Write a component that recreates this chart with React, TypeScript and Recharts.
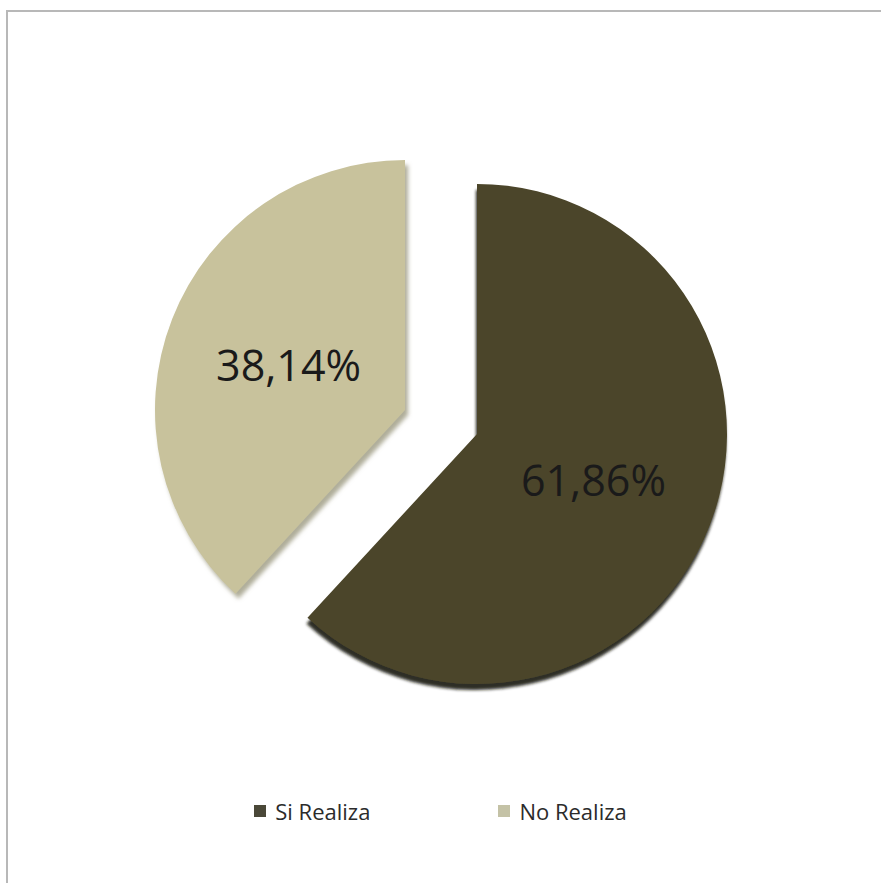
import React from "react";
import { PieChart, Pie, Cell, Legend } from "recharts";

const categories = ["Si Realiza", "No Realiza"];
const values = [61.86, 38.14];
const colors = ["#4b4529", "#c8c29c"];
const legendColors = ["#4a4838", "#c4c2a6"];

const data = categories.map((name, i) => ({ name, value: values[i] }));

// each slice is pulled out of the pie, so each gets its own centre
const slicePos = [
  { cx: 472, cy: 429 },
  { cx: 400, cy: 405 },
];

const RADIAN = Math.PI / 180;

function fmt(v: number) {
  return `${v.toFixed(2).replace(".", ",")}%`;
}

function makeLabel(show: number) {
  return (p: any) => {
    if (p.index !== show) return null;
    const r = p.outerRadius * 0.5;
    const x = p.cx + r * Math.cos(-p.midAngle * RADIAN);
    const y = p.cy + r * Math.sin(-p.midAngle * RADIAN);
    return (
      <text
        x={x}
        y={y}
        textAnchor="middle"
        dominantBaseline="central"
        fill="#1a1a1a"
        fontSize={43}
        fontFamily="'Open Sans', sans-serif"
      >
        {fmt(p.value)}
      </text>
    );
  };
}

function LegendBox() {
  return (
    <div
      style={{
        display: "flex",
        justifyContent: "center",
        gap: 128,
        fontFamily: "'Open Sans', sans-serif",
        fontSize: 22,
        color: "#2b2b2b",
      }}
    >
      {categories.map((c, i) => (
        <div key={c} style={{ display: "flex", alignItems: "center" }}>
          <span
            style={{
              display: "inline-block",
              width: 12,
              height: 12,
              background: legendColors[i],
              marginRight: 9,
            }}
          />
          {c}
        </div>
      ))}
    </div>
  );
}

export default function App() {
  return (
    <div style={{ position: "absolute", left: 0, top: 0, width: 881, height: 883, background: "#fff" }}>
      <div
        style={{
          position: "absolute",
          left: 6,
          top: 10,
          width: 875,
          height: 873,
          borderTop: "2px solid #b8b8b8",
          borderLeft: "2px solid #b8b8b8",
        }}
      />
      <PieChart width={881} height={883} style={{ position: "absolute", left: 0, top: 0 }}>
        <defs>
          <filter id="shDark" x="-10%" y="-10%" width="120%" height="125%">
            <feDropShadow dx="-1" dy="6" stdDeviation="1.8" floodColor="#15120a" floodOpacity="0.9" />
          </filter>
          <filter id="shTan" x="-10%" y="-10%" width="125%" height="125%">
            <feDropShadow dx="3" dy="5" stdDeviation="2" floodColor="#8e8a6e" floodOpacity="0.7" />
          </filter>
        </defs>
        {slicePos.map((pos, k) => (
          <Pie
            key={k}
            data={data}
            dataKey="value"
            nameKey="name"
            cx={pos.cx}
            cy={pos.cy}
            outerRadius={250}
            startAngle={90}
            endAngle={-270}
            stroke="none"
            isAnimationActive={false}
            label={makeLabel(k)}
            labelLine={false}
            legendType="none"
          >
            {data.map((d, i) => (
              <Cell
                key={d.name}
                fill={i === k ? colors[i] : "none"}
                filter={i === k ? (k === 0 ? "url(#shDark)" : "url(#shTan)") : undefined}
              />
            ))}
          </Pie>
        ))}
        <Legend
          content={() => <LegendBox />}
          wrapperStyle={{ position: "absolute", top: 796, left: 0, width: 881 }}
        />
      </PieChart>
    </div>
  );
}
